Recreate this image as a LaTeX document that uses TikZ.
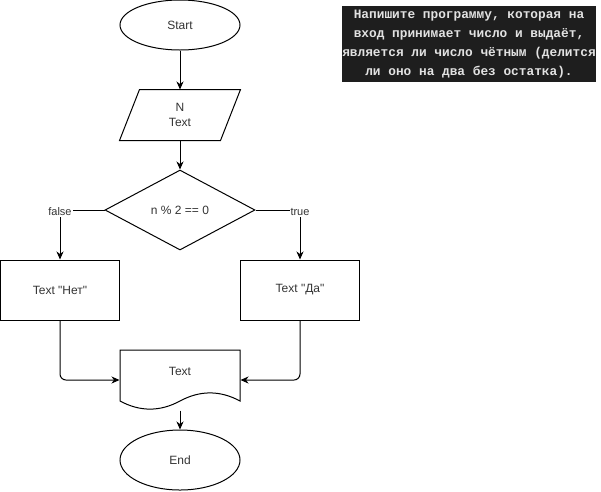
\documentclass[tikz,border=0pt]{standalone}
\usepackage{fontspec}
\setmainfont{Liberation Sans}
\newfontfamily\codefont{Liberation Mono}
\usetikzlibrary{arrows.meta,shapes.geometric}
\definecolor{codebg}{HTML}{1E1E1E}
\definecolor{codefg}{HTML}{E2E2E2}
\definecolor{txt}{HTML}{333333}
\begin{document}
\begin{tikzpicture}[x=1pt,y=-1pt,line width=1pt,
  base/.style={text=txt,font=\fontsize{12}{15}\selectfont,inner sep=0pt,align=center},
  term/.style={base,ellipse,draw,minimum width=120pt,minimum height=50pt},
  proc/.style={base,rectangle,draw,minimum width=119pt,minimum height=60pt},
  plain/.style={base,rectangle},
  decision/.style={base,diamond,draw,minimum width=150pt,minimum height=80pt,aspect=1.875},
  arr/.style={-{Stealth[length=8pt,width=7pt,inset=2.5pt]}},
  lbl/.style={fill=white,text=txt,inner sep=1pt,font=\fontsize{11}{13}\selectfont}]
\useasboundingbox (0,0) rectangle (601,491);

% task text
\node[fill=codebg,text=codefg,minimum width=254pt,minimum height=76pt,inner sep=0pt,align=center,
  font=\codefont\bfseries\fontsize{12.8}{19}\selectfont] (task) at (469,44)
  {Напишите программу, которая на\\вход принимает число и выдаёт,\\является ли число чётным (делится\\ли оно на два без остатка).};

% nodes
\node[term] (start) at (180,25) {Start};
\node[plain,minimum width=100pt,minimum height=50pt] (inp) at (180,115) {N\\Text};
\draw ([xshift=10pt]inp.north west) -- ([xshift=10pt]inp.north east)
   -- ([xshift=-10pt]inp.south east) -- ([xshift=-10pt]inp.south west) -- cycle;
\node[decision] (dia) at (180,210) {n \% 2 == 0};
\node[proc] (no) at (60,290) {Text \textquotedbl Нет\textquotedbl};
\node[proc] (yes) at (300,290) {Text \textquotedbl Да\textquotedbl};
\node[plain,minimum width=120pt,minimum height=60pt] (doc) at (180,380) {};
\draw (120,350) -- (240,350) -- (240,401)
   .. controls (220,390.2) and (200,390.2) .. (180,401)
   .. controls (160,411.8) and (140,411.8) .. (120,401) -- cycle;
\node[plain] (doclbl) at (180,371) {Text};
\node[term,minimum height=60pt] (stop) at (180,460) {End};

% connectors
\draw[arr] (start) -- (inp);
\draw[arr] (inp) -- (dia);
\draw[arr] (dia.west) -| node[lbl,pos=0.5,yshift=-2pt] (lf) {false} (no.north);
\draw[arr] (dia.east) -| node[lbl,pos=0.5,yshift=-2pt] (lt) {true} (yes.north);
\draw[arr,rounded corners=6pt] (no.south) |- (doc.west);
\draw[arr,rounded corners=6pt] (yes.south) |- (doc.east);
\draw[arr] (doc.south) -- (stop.north);
\end{tikzpicture}
\end{document}
